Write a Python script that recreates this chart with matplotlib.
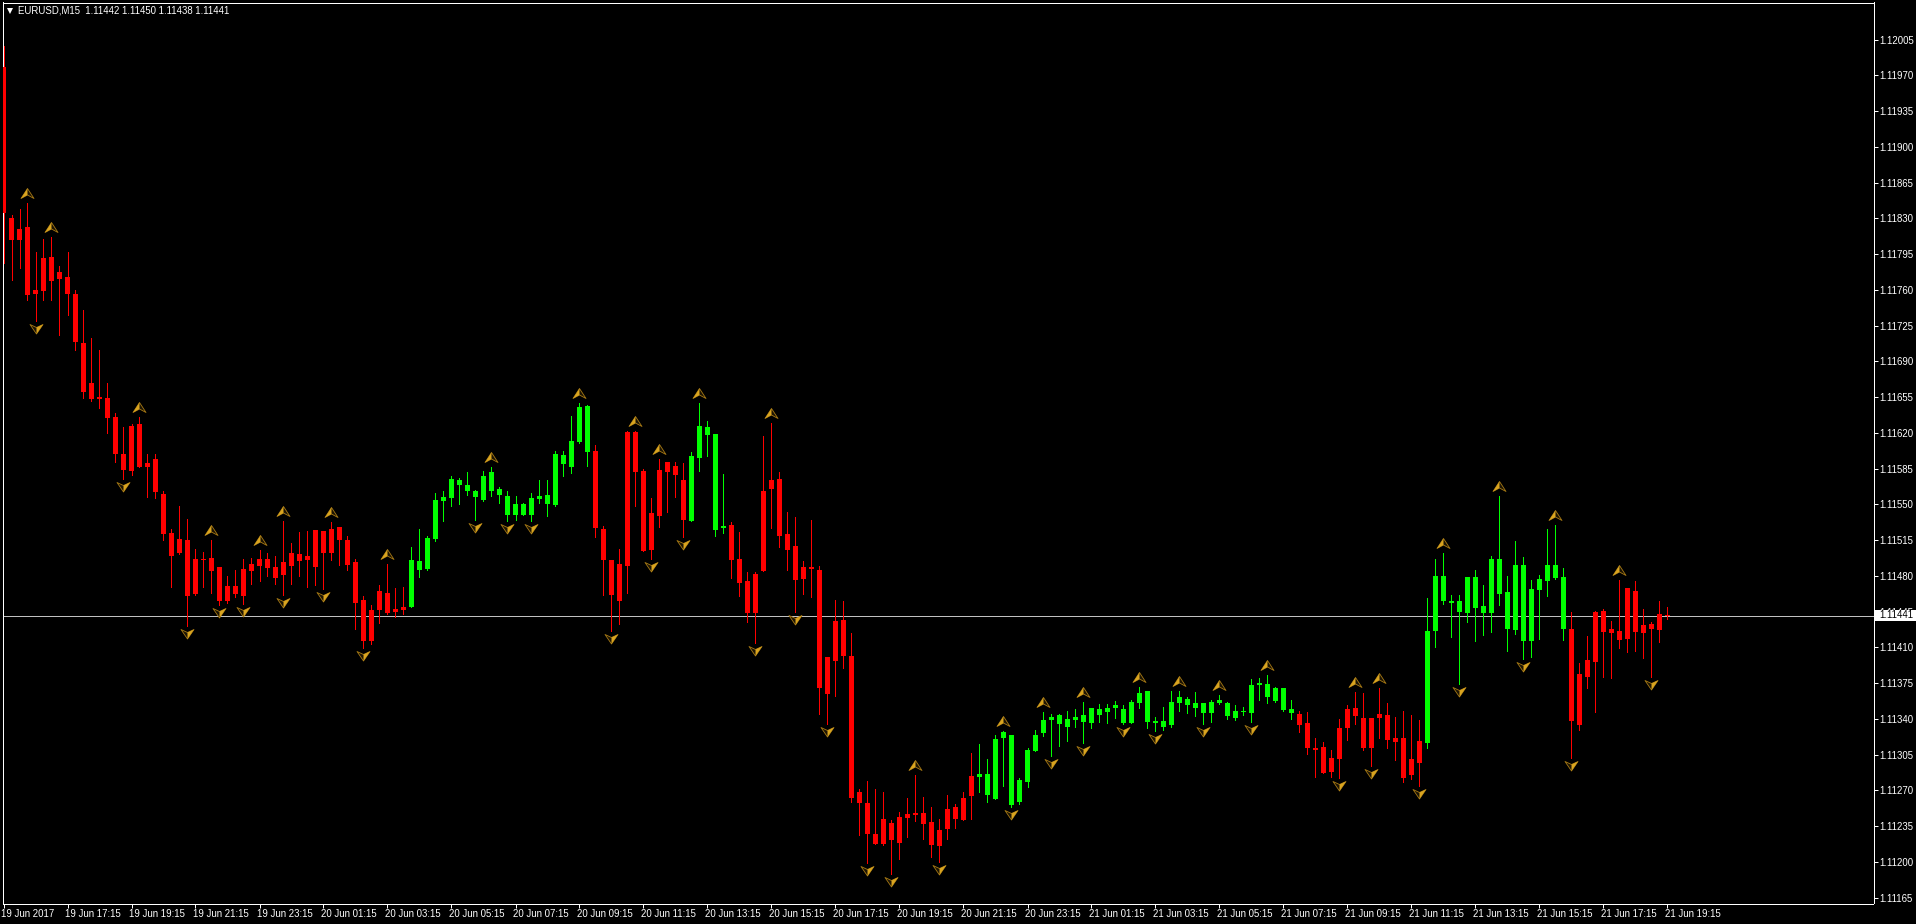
# -*- coding: utf-8 -*-

import matplotlib
matplotlib.use('Agg')
import matplotlib.pyplot as plt
from matplotlib.path import Path
from matplotlib.patches import Rectangle
from matplotlib.transforms import ScaledTranslation
import numpy as np


# candles in points above 1.11000
high = [999,833,839,845,797,810,812,783,797,760,740,713,701,669,640,626,629,636,599,599,
        563,526,548,536,506,503,515,489,480,486,497,498,505,502,500,534,512,523,524,525,
        524,533,528,519,497,460,452,471,492,468,469,508,526,519,561,563,578,576,582,564,
        583,587,567,563,558,551,561,574,574,602,602,637,649,647,608,529,496,506,622,622,
        585,556,594,592,592,591,601,649,632,619,580,533,523,484,484,617,630,582,543,538,
        495,535,490,401,456,455,424,271,279,271,268,241,249,263,285,264,254,242,266,257,
        268,307,315,301,324,328,324,282,312,329,347,345,345,348,350,357,351,355,355,358,
        354,359,371,367,342,352,367,367,361,366,356,359,363,357,354,352,379,380,383,371,
        370,359,348,347,321,317,310,340,354,366,365,341,370,356,342,348,344,339,458,497,
        502,461,461,479,486,471,500,558,480,514,499,476,481,526,530,488,445,395,421,446,
        448,436,476,468,475,448,435,455,450]
body_top = [978,830,820,822,760,791,792,778,773,756,708,669,655,654,636,599,627,629,591,594,
            560,522,516,515,497,497,498,489,470,470,487,492,497,497,489,494,502,501,500,525,
            524,526,528,515,494,456,447,465,463,448,450,496,495,517,554,557,575,574,569,563,
            578,582,565,558,550,550,556,558,559,599,598,612,645,646,602,526,496,492,621,621,
            583,542,584,592,588,574,597,627,626,619,529,530,497,475,482,563,574,575,521,509,
            489,489,486,401,436,437,402,268,258,227,242,238,244,247,248,248,239,231,252,254,
            263,284,286,286,320,327,324,280,310,324,339,342,344,340,342,344,351,350,351,354,
            350,357,365,367,338,338,357,361,360,356,356,357,359,356,348,348,373,375,374,370,
            370,350,345,336,312,313,302,331,350,351,341,341,345,344,321,321,301,318,426,480,
            480,455,455,479,479,451,497,497,464,491,491,467,477,491,491,479,428,384,398,445,
            446,428,426,468,465,432,433,443,442]
body_bottom = [835,809,809,755,756,759,769,771,756,709,660,653,653,635,599,584,583,587,587,562,
               521,500,502,460,462,496,485,455,455,462,460,485,490,488,478,481,490,495,496,489,
               502,502,515,491,454,416,416,447,444,445,447,450,486,487,516,553,556,569,563,557,
               554,563,559,540,540,540,540,555,550,549,590,587,611,601,527,496,461,455,490,582,
               504,505,539,582,579,535,534,595,618,525,527,496,473,444,444,485,565,519,505,476,
               477,487,370,364,397,402,263,258,227,218,218,221,219,243,246,237,217,216,232,242,
               241,265,283,266,262,321,256,259,278,309,326,339,335,332,339,337,336,344,347,351,
               336,336,356,337,336,332,334,356,354,351,346,346,356,343,341,347,346,373,361,358,
               349,346,334,312,310,287,288,301,331,343,312,312,341,319,317,282,285,297,316,426,
               455,454,445,444,449,444,444,462,428,427,416,416,466,475,478,428,338,334,381,396,
               425,424,417,418,425,424,428,427,441]
low = [786,770,781,750,730,750,750,716,735,701,654,651,644,620,592,575,579,587,557,556,
       515,469,501,431,461,469,463,452,454,459,453,472,475,480,472,461,472,480,469,471,
       467,496,491,486,428,409,413,434,443,440,443,450,479,486,514,534,548,550,559,535,
       553,558,551,534,535,540,534,551,539,548,578,581,610,588,518,461,426,433,463,548,
       504,497,528,543,557,518,534,583,597,519,522,478,460,435,414,485,527,508,486,445,
       462,459,345,335,362,390,259,226,199,218,217,188,203,224,240,222,205,200,222,233,
       241,242,268,259,262,274,254,257,273,309,323,304,314,318,332,316,331,337,336,341,
       335,336,351,331,328,329,332,348,346,343,335,337,355,340,339,344,337,359,356,357,
       348,340,327,306,283,287,283,282,319,335,310,294,321,312,300,278,281,274,312,410,
       453,420,374,435,416,422,425,452,407,423,399,401,418,460,477,417,302,329,370,347,
       381,380,409,406,407,400,381,415,438]

# runs of candles that the indicator paints green, the others are red
green_runs = [(51, 73), (86, 90), (122, 161), (178, 195)]

up_arrows = [3,6,17,26,32,35,41,48,61,72,79,82,87,96,114,125,130,135,142,147,152,158,169,172,180,187,194,202]
down_arrows = [4,15,23,27,30,35,40,45,59,63,66,76,81,85,94,99,103,108,111,117,126,131,135,140,144,150,156,167,171,177,182,190,196,206]

y_ticks = [1.11165,1.11200,1.11235,1.11270,1.11305,1.11340,1.11375,1.11410,1.11445,1.11480,
           1.11515,1.11550,1.11585,1.11620,1.11655,1.11690,1.11725,1.11760,1.11795,1.11830,
           1.11865,1.11900,1.11935,1.11970,1.12005]
x_labels = ['19 Jun 2017','19 Jun 17:15','19 Jun 19:15','19 Jun 21:15','19 Jun 23:15',
            '20 Jun 01:15','20 Jun 03:15','20 Jun 05:15','20 Jun 07:15','20 Jun 09:15',
            '20 Jun 11:15','20 Jun 13:15','20 Jun 15:15','20 Jun 17:15','20 Jun 19:15',
            '20 Jun 21:15','20 Jun 23:15','21 Jun 01:15','21 Jun 03:15','21 Jun 05:15',
            '21 Jun 07:15','21 Jun 09:15','21 Jun 11:15','21 Jun 13:15','21 Jun 15:15',
            '21 Jun 17:15','21 Jun 19:15']
bars_per_label = 8
last_price = 1.11441
title = 'EURUSD,M15  1.11442 1.11450 1.11438 1.11441'

plt.rcParams['font.family'] = ['Liberation Sans', 'DejaVu Sans']
W, H = 1916, 924
txt = 6.9
fg = '#ffffff'

n = len(high)
idx = np.arange(n)
to_price = lambda a: 1.11 + np.asarray(a) / 1e5
high_p, top_p, bottom_p, low_p = map(to_price, (high, body_top, body_bottom, low))

is_green = np.zeros(n, dtype=bool)
for a, b in green_runs:
    is_green[a:b + 1] = True
colors = np.where(is_green, '#00ff00', '#ff0000')

fig = plt.figure(figsize=(W / 100, H / 100), dpi=100, facecolor='black')
left, right, top, bottom = 2.5, 1873.5, 2.5, 903.5
ax = fig.add_axes([left / W, 1 - bottom / H, (right - left) / W, (bottom - top) / H], facecolor='black')

# one candle is 8 px wide, first candle centre sits at px 3.5
ax.set_xlim((left - 3.5) / 8, (right - 3.5) / 8)
ax.set_ylim(1.11 + (165 + (897.7 - bottom) * 0.979) / 1e5, 1.11 + (165 + (897.7 - top) * 0.979) / 1e5)

ax.vlines(idx, low_p, high_p, colors=colors, lw=0.72, antialiased=False, zorder=2)
ax.bar(idx, top_p - bottom_p, bottom=bottom_p, width=0.625, color=colors, linewidth=0, antialiased=False, zorder=3)

# current price line and its label box
ax.axhline(last_price, color='#c0c0c0', lw=0.72, zorder=1, antialiased=False)


def arrow_marker(points):
    v = np.array(points + [points[0]], dtype=float)
    return Path(v, closed=True), 2 * np.abs(v).max() * 72 / 100


up_full, up_ms = arrow_marker([(0, 15), (-6.5, 5), (0, 8.5), (6.5, 5)])
up_half, up_hs = arrow_marker([(0, 15), (-6.5, 5), (0, 8.5)])
dn_full, dn_ms = arrow_marker([(0, -12.5), (-6.5, -3), (0, -6), (6.5, -3)])
dn_half, dn_hs = arrow_marker([(0, -12.5), (6.5, -3), (0, -6)])

ax.plot(up_arrows, high_p[up_arrows], ls='', marker=up_full, ms=up_ms, mfc='#1c1404', mec='#a87a14', mew=0.6, zorder=4)
ax.plot(up_arrows, high_p[up_arrows], ls='', marker=up_half, ms=up_hs, mfc='#daa520', mec='none', zorder=5)
ax.plot(down_arrows, low_p[down_arrows], ls='', marker=dn_full, ms=dn_ms, mfc='#1c1404', mec='#a87a14', mew=0.6, zorder=4)
ax.plot(down_arrows, low_p[down_arrows], ls='', marker=dn_half, ms=dn_hs, mfc='#daa520', mec='none', zorder=5)

for s in ax.spines.values():
    s.set_color(fg)
    s.set_linewidth(0.72)

ax.yaxis.tick_right()
ax.set_yticks(y_ticks, ['%.5f' % v for v in y_ticks])
ax.set_xticks(idx[::bars_per_label][:len(x_labels)], x_labels, ha='left')
ax.tick_params(axis='y', colors=fg, length=2.9, width=0.72, pad=1.4, labelsize=txt)
ax.tick_params(axis='x', colors=fg, length=2.9, width=0.72, pad=1.4, labelsize=txt)
shift = ScaledTranslation(-2.5 / 100, 0, fig.dpi_scale_trans)
for lab in ax.get_xticklabels():
    lab.set_transform(lab.get_transform() + shift)

box_x = ax.get_yaxis_transform()
ax.add_patch(Rectangle((1.0008, last_price - 5.2e-5), 0.03, 10.4e-5, transform=box_x, facecolor='white',
                       edgecolor='none', clip_on=False, zorder=6))
fig.text(1879.5 / W, 1 - 615.5 / H, '%.5f' % last_price, color='black', fontsize=txt, va='center', ha='left', zorder=7)

# header in the top left corner
fig.text(18 / W, 1 - 10.7 / H, title, color=fg, fontsize=txt, va='center', ha='left')
ax.plot([9.5 / W], [1 - 11 / H], marker='v', ms=5, color=fg, mew=0, transform=fig.transFigure, clip_on=False, zorder=7)

fig.savefig('out.png', dpi=100, facecolor='black')
